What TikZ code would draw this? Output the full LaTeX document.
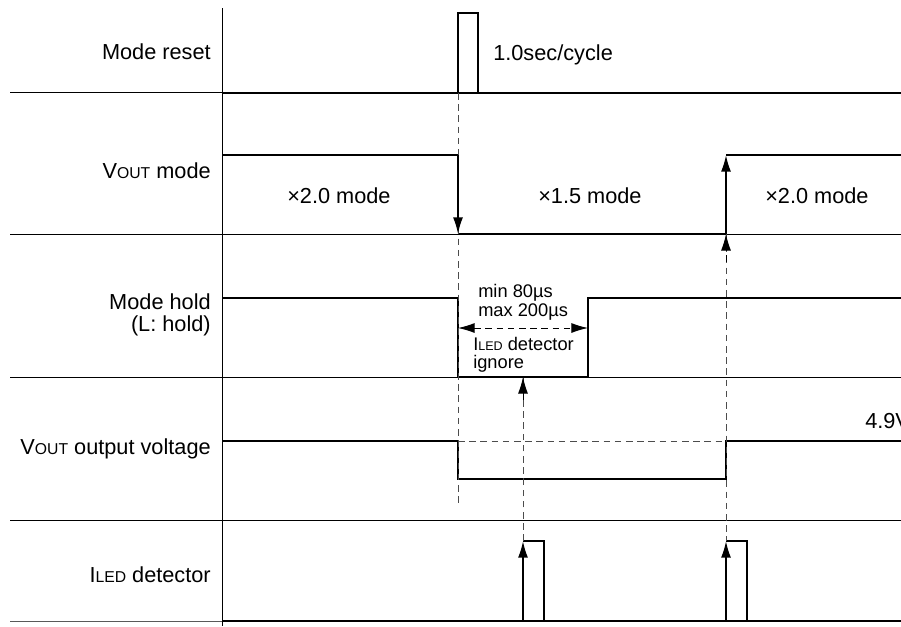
\documentclass[tikz,border=0pt]{standalone}
\usepackage{fontspec}
\setmainfont{Liberation Sans}
\usetikzlibrary{arrows.meta}
\newcommand{\smc}[1]{{\fontsize{11.8}{11.8}\selectfont #1}}
\newcommand{\smt}[1]{{\fontsize{9.4}{9.4}\selectfont #1}}
\tikzset{
  wave/.style={draw,line width=1.5pt,line join=miter},
  pulse/.style={draw,line width=1.1pt},
  sep/.style={draw,line width=0.75pt},
  guide/.style={draw,line width=0.7pt,dash pattern=on 5pt off 3.4pt,black!70},
  head/.style={-{Latex[length=12.5pt,width=7.5pt]}},
  tipup/.style={draw,line width=1.3pt,head},
  lab/.style={anchor=base east,inner sep=0pt,font=\fontsize{16.3}{16.3}\selectfont},
  txt/.style={anchor=base west,inner sep=0pt,font=\fontsize{16.3}{16.3}\selectfont},
  note/.style={anchor=base west,inner sep=0pt,font=\fontsize{13.7}{13.7}\selectfont}
}
\begin{document}
\begin{tikzpicture}[x=0.75pt,y=-0.75pt]
\useasboundingbox (0,0) rectangle (901,626);
% axis and row lines
\path[sep] (222,8) -- (222,626);
\path[sep] (10,92.5) -- (222,92.5);
\path[sep] (10,234) -- (901,234);
\path[sep] (10,377) -- (901,377);
\path[sep] (10,520) -- (901,520);
\path[sep,black!65] (10,621) -- (222,621);

% named points
\coordinate (rst) at (458,93);
\coordinate (hi1) at (458,155);
\coordinate (lo1) at (458,234);
\coordinate (lo2) at (726,234);
\coordinate (hi2) at (726,155);
\coordinate (end1) at (458,505);
\coordinate (hold) at (523,377);
\coordinate (det1) at (523,541);
\coordinate (det1b) at (523,621);
\coordinate (det2) at (726,541);
\coordinate (det2b) at (726,621);
\coordinate (w1) at (458,328);
\coordinate (w2) at (588,328);
\coordinate (v1) at (458,441);
\coordinate (v2) at (726,441);

% waveforms
\path[wave] (222,93) -- (901,93);
\path[pulse] (rst) -- (458,13) -- (478,13) -- (478,93);
\path[wave] (222,155) -- (hi1);
\path[wave] (lo1) -- (lo2);
\path[wave] (hi2) -- (901,155);
\path[wave] (222,298) -- (458,298) -- (458,377) -- (588,377) -- (588,298) -- (901,298);
\path[wave] (222,441) -- (v1) -- (458,479) -- (726,479) -- (v2) -- (901,441);
\path[wave] (222,621) -- (901,621);
\path[pulse] (det1) -- (544,541) -- (544,621);
\path[pulse] (det2) -- (747,541) -- (747,621);

% dashed guides
\path[guide] (rst) -- (end1);
\path[guide] (lo2) -- (det2);
\path[guide] (det1) -- (hold);
\path[guide] (v1) -- (v2);
\path[guide,black,{Latex[length=12.5pt,width=7.5pt]}-{Latex[length=12.5pt,width=7.5pt]}] (w1) -- (w2);

% arrows
\path[tipup] (hi1) -- (lo1);
\path[tipup] (lo2) -- (hi2);
\path[tipup] (det1b) -- (det1);
\path[tipup] (det2b) -- (det2);
\path[guide,black,head] (523,400) -- (hold);
\path[guide,black,head] (726,262) -- (lo2);

% row labels
\node[lab] (rowreset) at (211,59) {Mode reset};
\node[lab] (rowvout) at (211,178) {V\smc{OUT} mode};
\node[lab] (rowhold) at (211,309) {Mode hold};
\node[lab] (rowholdb) at (211,331) {(L: hold)};
\node[lab] (rowout) at (211,454) {V\smc{OUT} output voltage};
\node[lab] (rowdet) at (211,582) {I\smc{LED} detector};

% texts in the plot
\node[txt] (cycle) at (493,60) {1.0sec/cycle};
\node[txt] (modea) at (287,203) {×2.0 mode};
\node[txt] (modeb) at (538,203) {×1.5 mode};
\node[txt] (modec) at (765,203) {×2.0 mode};
\node[note] (tmin) at (478,297) {min 80µs};
\node[note] (tmax) at (478,316) {max 200µs};
\node[note] (ign) at (473,350) {I\smt{LED} detector};
\node[note] (ignb) at (473,368) {ignore};
\node[txt] (volt) at (865,428) {4.9V};
\end{tikzpicture}
\end{document}
